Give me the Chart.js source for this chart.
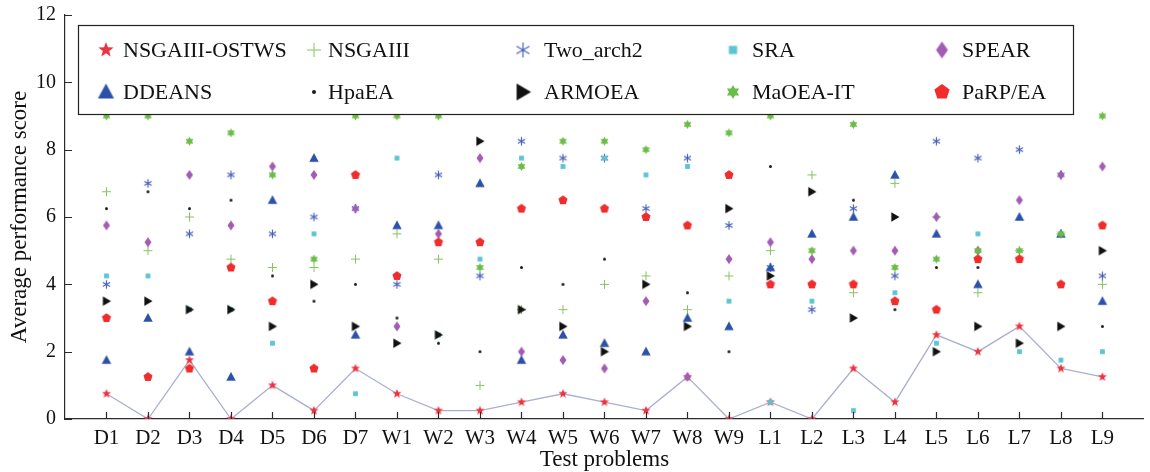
<!DOCTYPE html>
<html>
<head>
<meta charset="utf-8">
<script src="https://cdn.jsdelivr.net/npm/chart.js@4.4.1/dist/chart.umd.min.js"></script>
<style>
    html, body { margin: 0; padding: 0; background: #fff; }
    #wrap { width: 1150px; height: 472px; }
</style>
</head>
<body>
<div id="wrap"><canvas id="scoreChart" width="1150" height="472"></canvas></div>
<script>
// Test problems on the x axis
const problems = ['D1', 'D2', 'D3', 'D4', 'D5', 'D6', 'D7',
    'W1', 'W2', 'W3', 'W4', 'W5', 'W6', 'W7', 'W8', 'W9',
    'L1', 'L2', 'L3', 'L4', 'L5', 'L6', 'L7', 'L8', 'L9'];

// Average performance score of each algorithm per problem
const nsgaiiiOstws = [0.75, 0, 1.75, 0, 1.0, 0.25, 1.5, 0.75, 0.25, 0.25, 0.5, 0.75, 0.5, 0.25, 1.25, 0, 0.5, 0, 1.5, 0.5, 2.5, 2.0, 2.75, 1.5, 1.25];
const nsgaiii      = [6.75, 5.0, 6.0, 4.75, 4.5, 4.5, 4.75, 5.5, 4.75, 1.0, 3.25, 3.25, 4.0, 4.25, 3.25, 4.25, 5.0, 7.25, 3.75, 7.0, 6.0, 3.75, 5.0, 5.5, 4.0];
const twoArch2     = [4.0, 7.0, 5.5, 7.25, 5.5, 6.0, 6.25, 4.0, 7.25, 4.25, 8.25, 7.75, 7.75, 6.25, 7.75, 5.75, 4.5, 3.25, 6.25, 4.25, 8.25, 7.75, 8.0, 7.25, 4.25];
const sra          = [4.25, 4.25, 3.25, 3.25, 2.25, 5.5, 0.75, 7.75, 2.5, 4.75, 7.75, 7.5, 7.75, 7.25, 7.5, 3.5, 0.5, 3.5, 0.25, 3.75, 2.25, 5.5, 2.0, 1.75, 2.0];
const spear        = [5.75, 5.25, 7.25, 5.75, 7.5, 7.25, 6.25, 2.75, 5.5, 7.75, 2.0, 1.75, 1.5, 3.5, 1.25, 4.75, 5.25, 4.75, 5.0, 5.0, 6.0, 5.0, 6.5, 7.25, 7.5];
const ddeans       = [1.75, 3.0, 2.0, 1.25, 6.5, 7.75, 2.5, 5.75, 5.75, 7.0, 1.75, 2.5, 2.25, 2.0, 3.0, 2.75, 4.5, 5.5, 6.0, 7.25, 5.5, 4.0, 6.0, 5.5, 3.5];
const hpaea        = [6.25, 6.75, 6.25, 6.5, 4.25, 3.5, 4.0, 3.0, 2.25, 2.0, 4.5, 4.0, 4.75, 3.5, 3.75, 2.0, 7.5, 5.0, 6.5, 3.25, 4.5, 4.5, 2.75, 4.0, 2.75];
const armoea       = [3.5, 3.5, 3.25, 3.25, 2.75, 4.0, 2.75, 2.25, 2.5, 8.25, 3.25, 2.75, 2.0, 4.0, 2.75, 6.25, 4.25, 6.75, 3.0, 6.0, 2.0, 2.75, 2.25, 2.75, 5.0];
const maoeaIt      = [9.0, 9.0, 8.25, 8.5, 7.25, 4.75, 9.0, 9.0, 9.0, 4.5, 7.5, 8.25, 8.25, 8.0, 8.75, 8.5, 9.0, 5.0, 8.75, 4.5, 4.75, 5.0, 5.0, 5.5, 9.0];
const parpEa       = [3.0, 1.25, 1.5, 4.5, 3.5, 1.5, 7.25, 4.25, 5.25, 5.25, 6.25, 6.5, 6.25, 6.0, 5.75, 7.25, 4.0, 4.0, 4.0, 3.5, 3.25, 4.75, 4.75, 4.0, 5.75];

const yTicks = [0, 2, 4, 6, 8, 10, 12];

const serif = "'Liberation Serif', 'DejaVu Serif', serif";

// Draws one marker glyph on a small offscreen canvas, used as pointStyle
function makeMarker(shape, color, r) {
    const size = Math.ceil(r * 2 + 4);
    const c = document.createElement('canvas');
    c.width = size;
    c.height = size;
    const g = c.getContext('2d');
    const m = size / 2;
    g.fillStyle = color;
    g.strokeStyle = color;
    g.beginPath();

    const poly = (n, outer, inner, start) => {
        const steps = inner ? n * 2 : n;
        for (let i = 0; i < steps; i++) {
            const rad = inner && i % 2 ? inner : outer;
            const a = start + i * Math.PI * 2 / steps;
            const px = m + rad * Math.cos(a);
            const py = m + rad * Math.sin(a);
            if (i === 0) g.moveTo(px, py); else g.lineTo(px, py);
        }
        g.closePath();
    };

    switch (shape) {
        case 'star5':
            poly(5, r, r * 0.42, -Math.PI / 2);
            g.fill();
            break;
        case 'pentagon':
            poly(5, r, 0, -Math.PI / 2);
            g.fill();
            break;
        case 'hexagram':
            poly(6, r, r * 0.58, -Math.PI / 2);
            g.fill();
            break;
        case 'square':
            g.fillRect(m - r * 0.75, m - r * 0.75, r * 1.5, r * 1.5);
            break;
        case 'diamond':
            g.moveTo(m, m - r);
            g.lineTo(m + r * 0.7, m);
            g.lineTo(m, m + r);
            g.lineTo(m - r * 0.7, m);
            g.closePath();
            g.fill();
            break;
        case 'triangle':
            g.moveTo(m, m - r);
            g.lineTo(m + r * 0.95, m + r * 0.75);
            g.lineTo(m - r * 0.95, m + r * 0.75);
            g.closePath();
            g.fill();
            break;
        case 'tright':
            g.moveTo(m - r * 0.75, m - r);
            g.lineTo(m + r * 0.95, m);
            g.lineTo(m - r * 0.75, m + r);
            g.closePath();
            g.fill();
            break;
        case 'dot':
            g.arc(m, m, r, 0, Math.PI * 2);
            g.fill();
            break;
        case 'plus':
            g.lineWidth = 1;
            g.moveTo(m - r, m);
            g.lineTo(m + r, m);
            g.moveTo(m, m - r);
            g.lineTo(m, m + r);
            g.stroke();
            break;
        case 'asterisk':
            g.lineWidth = 1.2;
            [90, 30, 150].forEach(deg => {
                const a = deg * Math.PI / 180;
                g.moveTo(m - r * Math.cos(a), m - r * Math.sin(a));
                g.lineTo(m + r * Math.cos(a), m + r * Math.sin(a));
            });
            g.stroke();
            break;
    }
    return c;
}

// name, values, marker shape, colour, marker size in plot / legend, draw order (higher = further back)
const series = [
    { name: 'NSGAIII-OSTWS', data: nsgaiiiOstws, shape: 'star5',    color: '#ee3340', r: 4.8, lr: 8,   order: 9 },
    { name: 'NSGAIII',       data: nsgaiii,      shape: 'plus',     color: '#86c460', r: 4.5, lr: 7,   order: 8 },
    { name: 'Two_arch2',     data: twoArch2,     shape: 'asterisk', color: '#4a63b8', r: 4.2, lr: 7.5, order: 7 },
    { name: 'SRA',           data: sra,          shape: 'square',   color: '#5bc5d3', r: 3.2, lr: 5.5, order: 6 },
    { name: 'SPEAR',         data: spear,        shape: 'diamond',  color: '#a35bb3', r: 5,   lr: 8.5, order: 5 },
    { name: 'DDEANS',        data: ddeans,       shape: 'triangle', color: '#2b51a8', r: 5,   lr: 8.5, order: 4 },
    { name: 'HpaEA',         data: hpaea,        shape: 'dot',      color: '#1a1a1a', r: 1.5, lr: 2,   order: 10 },
    { name: 'ARMOEA',        data: armoea,       shape: 'tright',   color: '#111111', r: 4.8, lr: 8.5, order: 3 },
    { name: 'MaOEA-IT',      data: maoeaIt,      shape: 'hexagram', color: '#6cbd48', r: 4.5, lr: 7,   order: 2 },
    { name: 'PaRP/EA',       data: parpEa,       shape: 'pentagon', color: '#f02c2c', r: 4.8, lr: 8,   order: 1 }
];

series.forEach(s => {
    s.marker = makeMarker(s.shape, s.color, s.r);
    s.legendMarker = makeMarker(s.shape, s.color, s.lr);
});

// Ticks pointing into the plot area
const innerTicks = {
    id: 'innerTicks',
    afterDraw(chart) {
        const { ctx, scales: { x, y } } = chart;
        ctx.save();
        ctx.strokeStyle = '#2b2b2b';
        ctx.lineWidth = 1.2;
        ctx.beginPath();
        x.ticks.forEach(t => {
            const px = Math.round(x.getPixelForValue(t.value)) + 0.5;
            ctx.moveTo(px, y.bottom);
            ctx.lineTo(px, y.bottom - 7);
        });
        y.ticks.forEach(t => {
            const py = Math.round(y.getPixelForValue(t.value)) + 0.5;
            ctx.moveTo(x.left, py);
            ctx.lineTo(x.left + 7, py);
        });
        ctx.stroke();
        ctx.restore();
    }
};

// Boxed legend laid out as a 5 x 2 grid, drawn above the markers
const gridLegend = {
    id: 'gridLegend',
    afterDraw(chart) {
        const ctx = chart.ctx;
        const markerX = [106, 314, 523, 733, 942];
        const textX = [123, 328, 544, 752, 962];
        const rowY = [50, 92];
        ctx.save();
        ctx.fillStyle = '#ffffff';
        ctx.fillRect(78, 25, 995, 90);
        ctx.strokeStyle = '#222';
        ctx.lineWidth = 1.2;
        ctx.strokeRect(78.5, 25.5, 995, 89);
        ctx.font = '22px ' + serif;
        ctx.textBaseline = 'middle';
        ctx.textAlign = 'left';
        series.forEach((s, i) => {
            const col = i % 5;
            const row = Math.floor(i / 5);
            const img = s.legendMarker;
            ctx.drawImage(img, markerX[col] - img.width / 2, rowY[row] - img.height / 2);
            ctx.fillStyle = '#111';
            ctx.fillText(s.name, textX[col], rowY[row] + 1);
        });
        ctx.restore();
    }
};

Chart.defaults.font.family = serif;
Chart.defaults.color = '#111';

new Chart(document.getElementById('scoreChart'), {
    type: 'scatter',
    data: {
        datasets: series.map((s, idx) => ({
            label: s.name,
            data: s.data.map((v, i) => ({ x: i + 1, y: v })),
            pointStyle: s.marker,
            pointRadius: s.r,
            pointHoverRadius: s.r,
            showLine: idx === 0,
            borderColor: idx === 0 ? '#a9afd0' : s.color,
            borderWidth: idx === 0 ? 1.3 : 0,
            backgroundColor: s.color,
            order: s.order
        }))
    },
    options: {
        responsive: false,
        animation: false,
        layout: { padding: { top: 15, right: 0, bottom: 0, left: 0 } },
        plugins: {
            legend: { display: false },
            tooltip: { enabled: false }
        },
        scales: {
            x: {
                type: 'linear',
                min: 0,
                max: problems.length + 1,
                afterBuildTicks: scale => {
                    scale.ticks = problems.map((_, i) => ({ value: i + 1 }));
                },
                afterFit: scale => {
                    scale.height = 53;
                    scale.paddingLeft = 0;
                    scale.paddingRight = 0;
                },
                grid: { drawOnChartArea: false, drawTicks: false },
                border: { display: true, color: '#2b2b2b', width: 1.2 },
                ticks: {
                    autoSkip: false,
                    maxRotation: 0,
                    padding: 7,
                    font: { size: 21 },
                    callback: value => problems[value - 1] || ''
                },
                title: {
                    display: true,
                    text: 'Test problems',
                    font: { size: 23 },
                    padding: { top: 0, bottom: -2 }
                }
            },
            y: {
                min: 0,
                max: 12,
                afterBuildTicks: scale => {
                    scale.ticks = yTicks.map(v => ({ value: v }));
                },
                afterFit: scale => {
                    scale.width = 65;
                    scale.paddingTop = 0;
                    scale.paddingBottom = 0;
                },
                grid: { drawOnChartArea: false, drawTicks: false },
                border: { display: true, color: '#2b2b2b', width: 1.2 },
                ticks: {
                    padding: 9,
                    font: { size: 20 }
                },
                title: {
                    display: true,
                    text: 'Average performance score',
                    font: { size: 23 },
                    padding: { top: 6, bottom: 0 }
                }
            }
        }
    },
    plugins: [innerTicks, gridLegend]
});
</script>
</body>
</html>
